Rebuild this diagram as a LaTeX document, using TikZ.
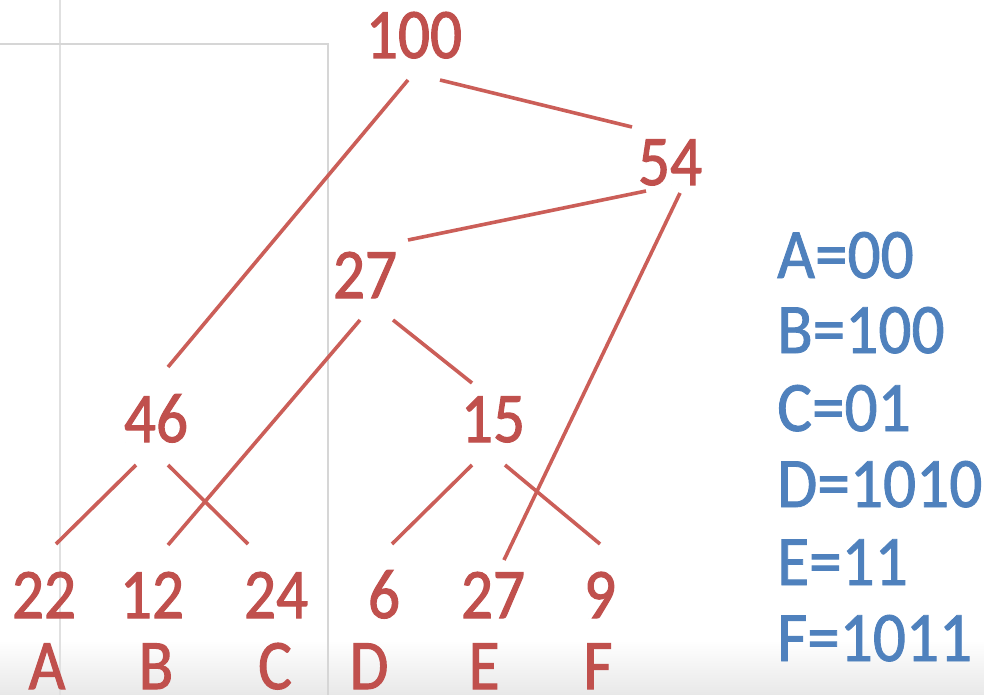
\documentclass[tikz,border=0pt]{standalone}
\usepackage{fontspec}
\setmainfont{Carlito}
\newfontfamily\redfont[FakeStretch=0.89,FakeBold=1.5]{Carlito}
\newfontfamily\bluefont[FakeStretch=0.92,FakeBold=1.2]{Carlito}
\usetikzlibrary{calc}
\definecolor{hred}{HTML}{C0504D}
\definecolor{hredline}{HTML}{CB5E58}
\definecolor{hblue}{HTML}{4F81BD}
\definecolor{gridgray}{HTML}{D6D6D6}
\tikzset{
  num/.style={anchor=base, inner sep=0pt, text=hred, font=\redfont\fontsize{71}{71}\selectfont},
  code/.style={anchor=base west, inner sep=0pt, text=hblue, font=\bluefont\fontsize{71}{71}\selectfont},
  edge/.style={draw=hredline, line width=3.6pt},
  guide/.style={draw=gridgray, line width=1.8pt}
}
\begin{document}
\begin{tikzpicture}[x=1pt,y=-1pt]
\useasboundingbox (0,0) rectangle (984,695);
\fill[white] (0,0) rectangle (984,695);
\shade[top color=white, bottom color=black!9] (0,640) rectangle (984,695);
% faint guides
\draw[guide, draw=gridgray!75] (60,0) -- (60,695);
\draw[guide] (0,44) -- (328,44) -- (328,695);
% tree nodes
\node[num] (n100) at (414,58) {100};
\node[num] (n54) at (670,185) {54};
\node[num] (n27) at (365,298) {27};
\node[num] (n46) at (156,442) {46};
\node[num] (n15) at (493,442) {15};
\node[num] (l22) at (44,618) {22};
\node[num] (l12) at (152,618) {12};
\node[num] (l24) at (276,618) {24};
\node[num] (l6) at (384,618) {6};
\node[num] (l27) at (493,618) {27};
\node[num] (l9) at (600,618) {9};
% letters
\node[num] (sA) at (47,689) {A};
\node[num] (sB) at (156,689) {B};
\node[num] (sC) at (275,689) {C};
\node[num] (sD) at (369,689) {D};
\node[num] (sE) at (484,689) {E};
\node[num] (sF) at (598,689) {F};
% codes
\node[code] (cA) at (777,278) {A=00};
\node[code] (cB) at (777,353) {B=100};
\node[code] (cC) at (777,431) {C=01};
\node[code] (cD) at (777,507) {D=1010};
\node[code] (cE) at (777,585) {E=11};
\node[code] (cF) at (777,661) {F=1011};
% edges
\draw[edge] ([shift={(-6,22)}]n100.base) -- ([shift={(12,-75)}]n46.base);
\draw[edge] ([shift={(26,22)}]n100.base) -- ([shift={(-38,-58)}]n54.base);
\draw[edge] ([shift={(-24,6)}]n54.base) -- ([shift={(43,-58)}]n27.base);
\draw[edge] ([shift={(10,8)}]n54.base) -- ([shift={(11,-58)}]l27.base);
\draw[edge] ([shift={(-5,22)}]n27.base) -- ([shift={(16,-73)}]l12.base);
\draw[edge] ([shift={(28,22)}]n27.base) -- ([shift={(-21,-59)}]n15.base);
\draw[edge] ([shift={(-20,23)}]n46.base) -- ([shift={(12,-74)}]l22.base);
\draw[edge] ([shift={(12,23)}]n46.base) -- ([shift={(-28,-74)}]l24.base);
\draw[edge] ([shift={(-21,23)}]n15.base) -- ([shift={(8,-74)}]l6.base);
\draw[edge] ([shift={(12,23)}]n15.base) -- ([shift={(0,-74)}]l9.base);
\end{tikzpicture}
\end{document}
